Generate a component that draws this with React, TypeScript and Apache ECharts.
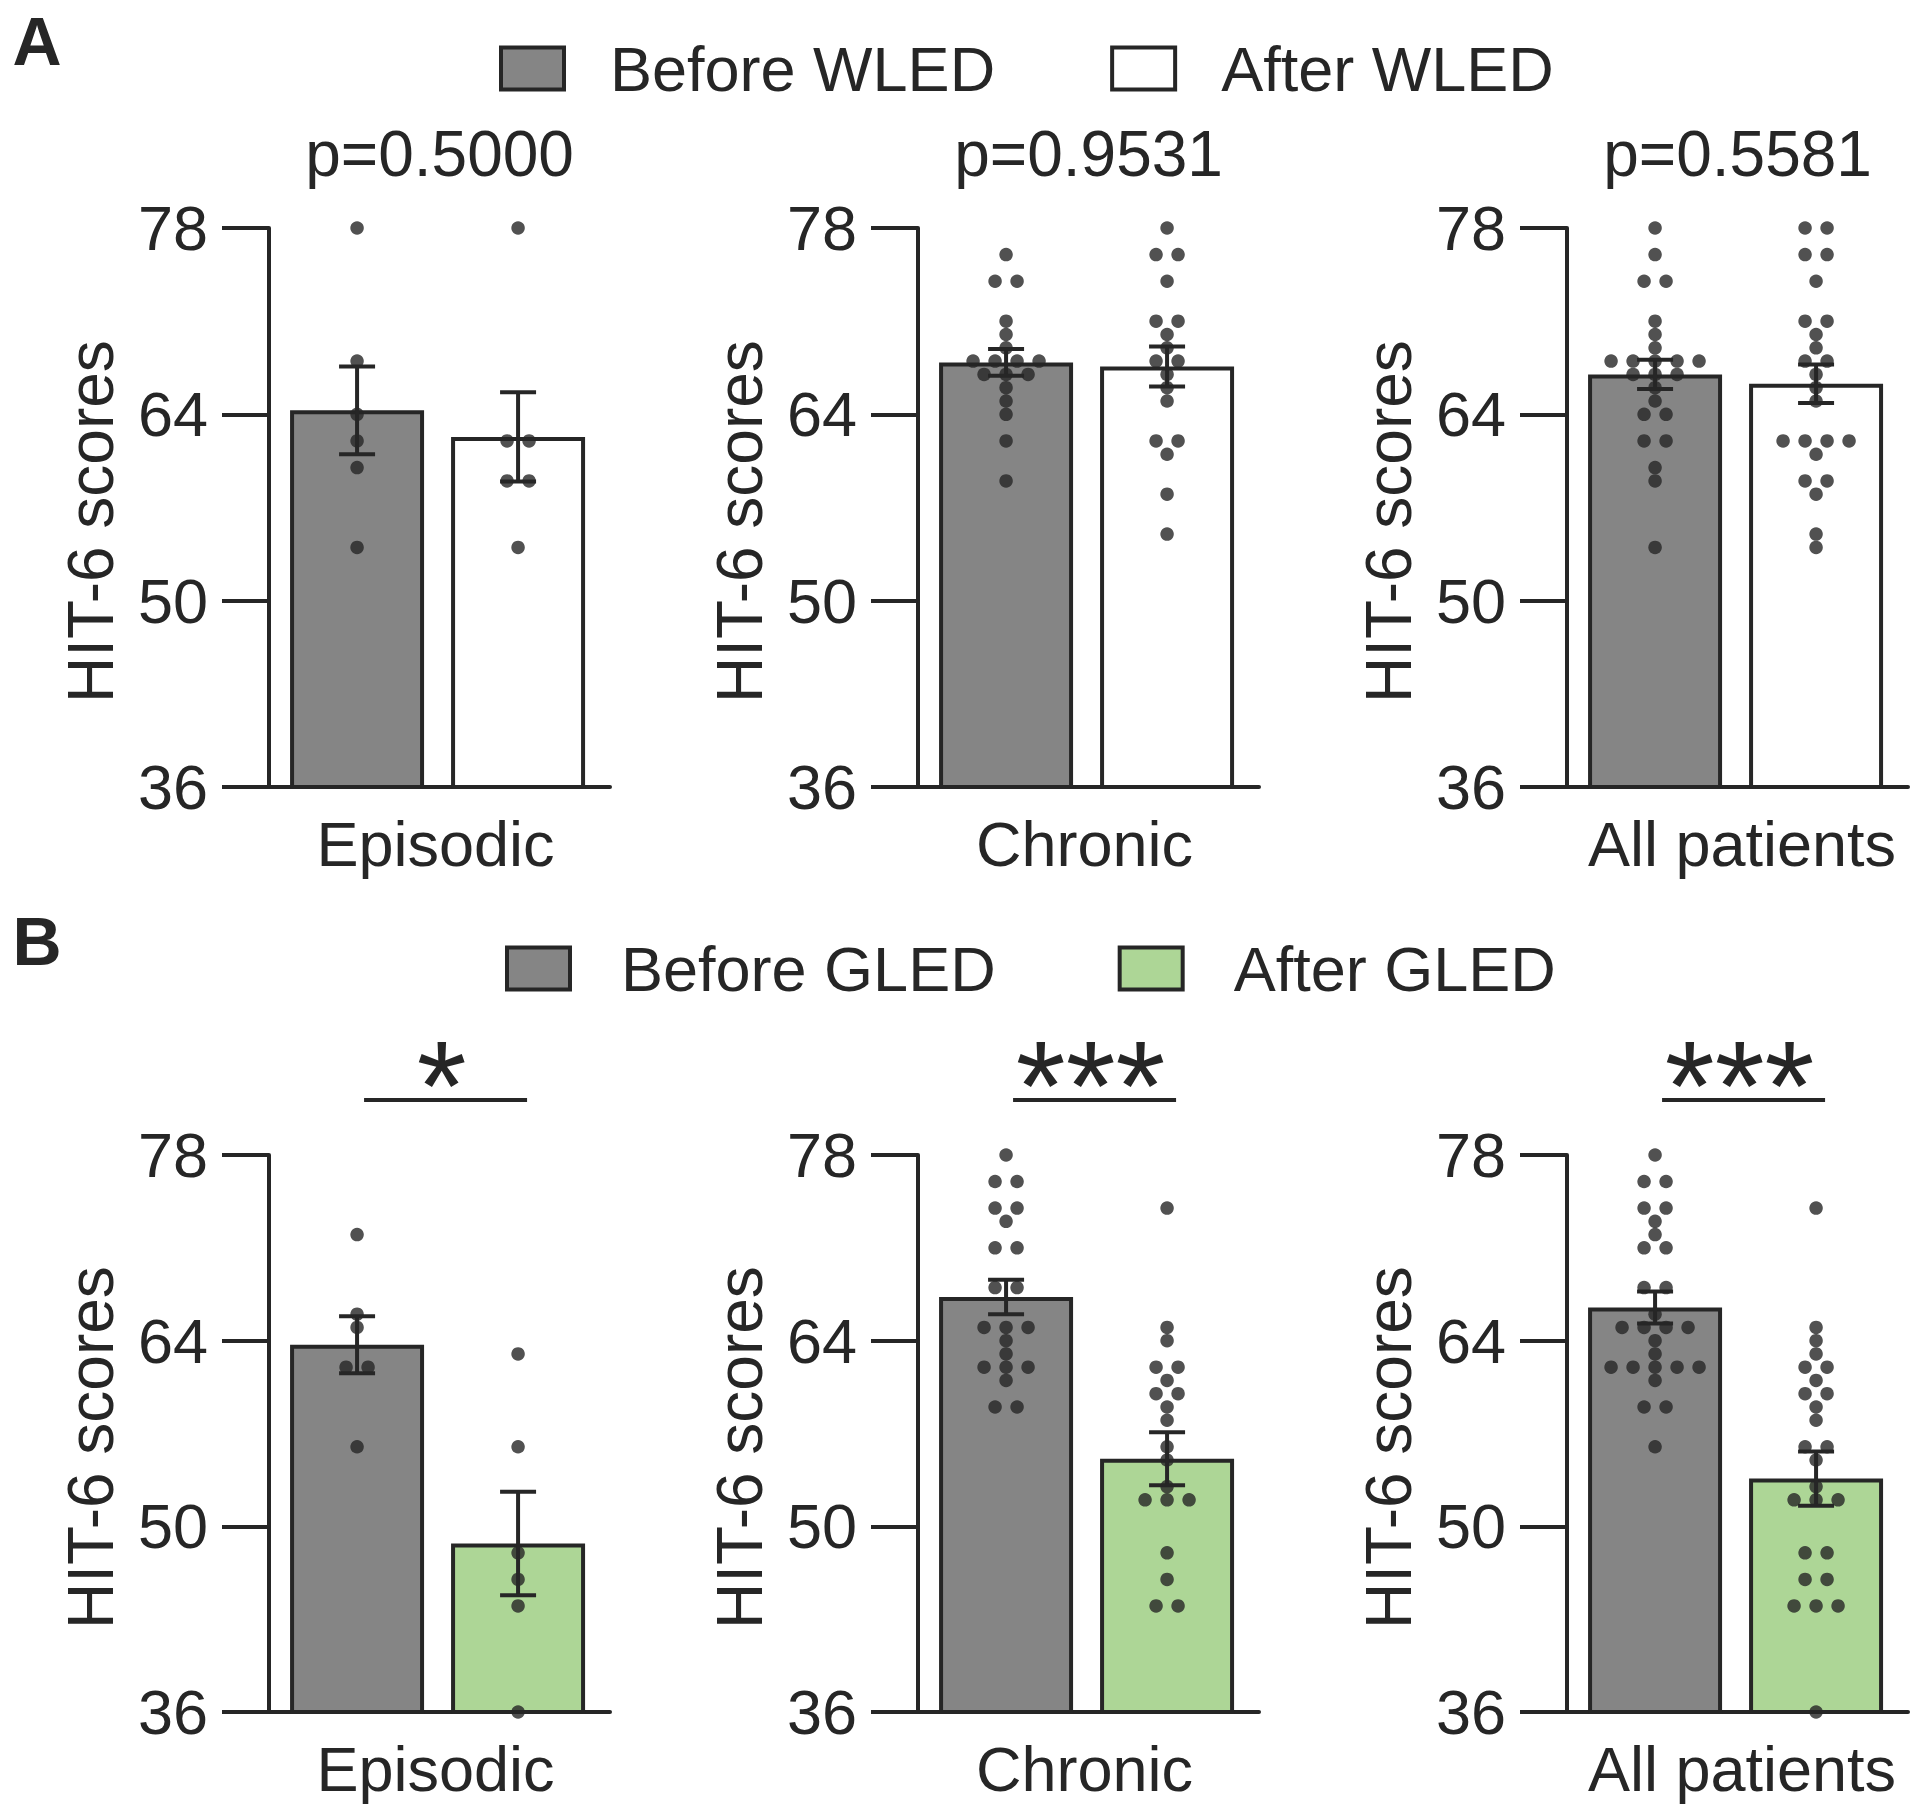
import React, { useEffect, useRef } from 'react';
import * as echarts from 'echarts';

// ---------------- data ----------------
const categories = ['Episodic', 'Chronic', 'All patients'];
const yTicks = [36, 50, 64, 78];
const legendA = ['Before WLED', 'After WLED'];
const legendB = ['Before GLED', 'After GLED'];
const pValuesA = ['p=0.5000', 'p=0.9531', 'p=0.5581'];
const starsB = ['*', '***', '***'];

// Panel A (WLED) individual HIT-6 scores
const episodicBeforeWLED = [78, 68, 64, 62, 60, 54];
const episodicAfterWLED = [78, 62, 62, 59, 59, 54];
const chronicBeforeWLED = [76, 74, 74, 71, 70, 69, 68, 68, 68, 68, 67, 67, 67, 66, 65, 64, 62, 59];
const chronicAfterWLED = [78, 76, 76, 74, 71, 71, 70, 69, 68, 68, 67, 66, 65, 62, 62, 61, 58, 55];
const allBeforeWLED = [78, 76, 74, 74, 71, 70, 69, 68, 68, 68, 68, 68, 67, 67, 67, 66, 65, 64, 64, 62, 62, 60, 59, 54];
const allAfterWLED = [78, 78, 76, 76, 74, 71, 71, 70, 69, 68, 68, 67, 66, 65, 62, 62, 62, 62, 61, 59, 59, 58, 55, 54];

// Panel A bar heights (mean) and error bars (SEM): Episodic, Chronic, All patients
const meanBeforeWLED = [64.3, 67.9, 67.0];
const semBeforeWLED = [3.3, 1.0, 1.1];
const meanAfterWLED = [62.3, 67.6, 66.3];
const semAfterWLED = [3.35, 1.5, 1.45];

// Panel B (GLED) individual HIT-6 scores
const episodicBeforeGLED = [72, 66, 65, 62, 62, 56];
const episodicAfterGLED = [63, 56, 48, 46, 44, 36];
const chronicBeforeGLED = [78, 76, 76, 74, 74, 73, 71, 71, 68, 68, 65, 65, 65, 64, 63, 62, 62, 62, 61, 59, 59];
const chronicAfterGLED = [74, 65, 64, 62, 62, 61, 60, 60, 59, 58, 56, 55, 53, 52, 52, 52, 48, 46, 44, 44];
const allBeforeGLED = [78, 76, 76, 74, 74, 73, 72, 71, 71, 68, 68, 66, 65, 65, 65, 65, 64, 63, 62, 62, 62, 62, 62, 61, 59, 59, 56];
const allAfterGLED = [74, 65, 64, 63, 62, 62, 61, 60, 60, 59, 58, 56, 56, 55, 53, 52, 52, 52, 48, 48, 46, 46, 44, 44, 44, 36];

// Panel B bar heights (mean) and error bars (SEM)
const meanBeforeGLED = [63.7, 67.3, 66.5];
const semBeforeGLED = [2.15, 1.3, 1.2];
const meanAfterGLED = [48.7, 55.1, 53.6];
const semAfterGLED = [3.9, 2.0, 2.05];

// ---------------- style / layout ----------------
const INK = '#262626';
const GRAY = '#858585';
const GREEN = '#add696';
const FONT = "'Liberation Sans', Arial, Helvetica, sans-serif";
const FS = 64;
const FS_LABEL = 63;
const FS_TICK = 63;

const colX = [269, 918, 1567];
const rowTop = [228, 1155];
const plotH = [559, 557];
const plotW = 341;
const X_MIN = -0.547;
const X_MAX = 1.571;
const DOT = 13.5;
const DOT_STEP = 22;

const rows = [
  {
    names: legendA,
    colors: [GRAY, '#ffffff'],
    before: [episodicBeforeWLED, chronicBeforeWLED, allBeforeWLED],
    after: [episodicAfterWLED, chronicAfterWLED, allAfterWLED],
    means: [meanBeforeWLED, meanAfterWLED],
    sems: [semBeforeWLED, semAfterWLED],
  },
  {
    names: legendB,
    colors: [GRAY, GREEN],
    before: [episodicBeforeGLED, chronicBeforeGLED, allBeforeGLED],
    after: [episodicAfterGLED, chronicAfterGLED, allAfterGLED],
    means: [meanBeforeGLED, meanAfterGLED],
    sems: [semBeforeGLED, semAfterGLED],
  },
];

// column-scatter layout: equal values are spread side by side
function swarm(vals: number[], xPos: number) {
  const counts: Record<number, number> = {};
  vals.forEach((v) => (counts[v] = (counts[v] || 0) + 1));
  const seen: Record<number, number> = {};
  return vals.map((v) => {
    const k = counts[v];
    const i = seen[v] || 0;
    seen[v] = i + 1;
    return { value: [xPos, v], symbolOffset: [(i - (k - 1) / 2) * DOT_STEP, 0] };
  });
}

function buildOption() {
  const grid: any[] = [];
  const xAxis: any[] = [];
  const yAxis: any[] = [];
  const series: any[] = [];
  rows.forEach((row, r) => {
    for (let c = 0; c < 3; c++) {
      const g = r * 3 + c;
      grid.push({ left: colX[c], top: rowTop[r], width: plotW, height: plotH[r] });
      xAxis.push({
        gridIndex: g,
        type: 'value',
        min: X_MIN,
        max: X_MAX,
        axisLine: { show: true, onZero: false, lineStyle: { color: INK, width: 4 } },
        axisTick: { show: false },
        axisLabel: { show: false },
        splitLine: { show: false },
        name: categories[c],
        nameLocation: 'middle',
        nameGap: 25,
        nameTextStyle: {
          fontSize: FS_LABEL,
          color: INK,
          fontFamily: FONT,
          padding: c === 2 ? [0, 0, 0, 9] : [0, 8, 0, 0],
        },
      });
      yAxis.push({
        gridIndex: g,
        type: 'value',
        min: yTicks[0],
        max: yTicks[yTicks.length - 1],
        interval: yTicks[1] - yTicks[0],
        axisLine: { show: true, onZero: false, lineStyle: { color: INK, width: 4 } },
        axisTick: { show: true, length: 47, lineStyle: { color: INK, width: 4 } },
        axisLabel: { fontSize: FS_TICK, color: INK, fontFamily: FONT, margin: 61 },
        splitLine: { show: false },
      });
      const groups = [row.before[c], row.after[c]];
      groups.forEach((_vals, k) => {
        series.push({
          type: 'bar',
          name: row.names[k],
          xAxisIndex: g,
          yAxisIndex: g,
          data: [[k, row.means[k][c]]],
          barWidth: 134,
          barGap: '-100%',
          itemStyle: { color: row.colors[k], borderColor: INK, borderWidth: 4 },
          z: 2,
        });
      });
      groups.forEach((vals, k) => {
        series.push({
          type: 'scatter',
          xAxisIndex: g,
          yAxisIndex: g,
          symbol: 'circle',
          symbolSize: DOT,
          itemStyle: { color: INK },
          data: swarm(vals, k),
          z: 4,
        });
      });
      series.push({
        type: 'custom',
        xAxisIndex: g,
        yAxisIndex: g,
        z: 5,
        data: [0, 1].map((k) => [k, row.means[k][c], row.sems[k][c]]),
        renderItem: (_p: any, api: any) => {
          const x = api.value(0);
          const m = api.value(1);
          const s = api.value(2);
          const t = api.coord([x, m + s]);
          const b = api.coord([x, m - s]);
          const hw = 18;
          const style = { stroke: INK, lineWidth: 4 };
          return {
            type: 'group',
            children: [
              { type: 'line', shape: { x1: t[0], y1: t[1], x2: b[0], y2: b[1] }, style },
              { type: 'line', shape: { x1: t[0] - hw, y1: t[1], x2: t[0] + hw, y2: t[1] }, style },
              { type: 'line', shape: { x1: b[0] - hw, y1: b[1], x2: b[0] + hw, y2: b[1] }, style },
            ],
          };
        },
      });
    }
  });

  const legendCommon = {
    icon: 'rect',
    itemWidth: 63,
    itemHeight: 42,
    padding: 0,
    selectedMode: false,
    itemStyle: { borderColor: INK, borderWidth: 4 },
  };
  const legend = [
    {
      ...legendCommon,
      data: legendA,
      left: 499,
      top: 37,
      itemGap: 115,
      textStyle: { fontSize: 63, color: INK, fontFamily: FONT, padding: [0, 0, 0, 41] },
    },
    {
      ...legendCommon,
      data: legendB,
      left: 505,
      top: 937,
      itemGap: 122,
      textStyle: { fontSize: 63, color: INK, fontFamily: FONT, padding: [0, 0, 0, 46] },
    },
  ];

  return {
    animation: false,
    backgroundColor: '#ffffff',
    textStyle: { fontFamily: FONT },
    grid,
    xAxis,
    yAxis,
    legend,
    series,
  };
}

function txt(text: string, x: number, y: number, size: number, extra: any = {}) {
  return {
    type: 'text',
    x,
    y,
    ...(extra.rotation !== undefined ? { rotation: extra.rotation } : {}),
    style: {
      text,
      fontSize: size,
      fontFamily: FONT,
      fontWeight: extra.bold ? 'bold' : 'normal',
      fill: INK,
      align: 'center',
      verticalAlign: 'middle',
      textAlign: 'center',
      textVerticalAlign: 'middle',
    },
  };
}

function buildGraphics(chart: any) {
  const els: any[] = [];
  els.push(txt('A', 37, 41, 68, { bold: true }));
  els.push(txt('B', 37, 941, 68, { bold: true }));
  rows.forEach((_row, r) => {
    for (let c = 0; c < 3; c++) {
      const g = r * 3 + c;
      const pb = chart.convertToPixel({ gridIndex: g }, [0, yTicks[yTicks.length - 1]]);
      const pa = chart.convertToPixel({ gridIndex: g }, [1, yTicks[yTicks.length - 1]]);
      const mid = chart.convertToPixel({ gridIndex: g }, [0, (yTicks[0] + yTicks[yTicks.length - 1]) / 2]);
      els.push(txt('HIT-6 scores', colX[c] - 178, mid[1] + 14, FS, { rotation: Math.PI / 2 }));
      const cx = (pb[0] + pa[0]) / 2;
      if (r === 0) {
        els.push(txt(pValuesA[c], cx + 2, pb[1] - 74, FS));
      } else {
        els.push(txt(starsB[c], cx + 4, pb[1] - 70, 128));
        els.push({
          type: 'line',
          shape: { x1: pb[0] + 7, y1: pb[1] - 55, x2: pa[0] + 9, y2: pb[1] - 55 },
          style: { stroke: INK, lineWidth: 4 },
        });
      }
    }
  });
  return { elements: els };
}

export default function App() {
  const ref = useRef<HTMLDivElement>(null);
  useEffect(() => {
    document.body.style.margin = '0';
    const chart = echarts.init(ref.current!, null, { renderer: 'svg', width: 1920, height: 1820 });
    chart.setOption(buildOption() as any);
    chart.setOption({ graphic: buildGraphics(chart) } as any);
    return () => chart.dispose();
  }, []);
  return <div ref={ref} style={{ width: 1920, height: 1820 }} />;
}
